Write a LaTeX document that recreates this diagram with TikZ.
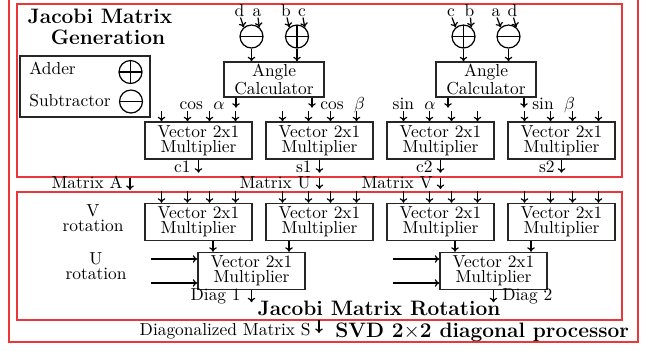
\documentclass[tikz,border=0pt]{standalone}
\usetikzlibrary{arrows.meta,calc}
\definecolor{boxred}{RGB}{235,55,55}
\newcommand{\pu}{0.5747pt}
\begin{document}
\begin{tikzpicture}[x=0.5747pt,y=-0.5747pt,
  >={To[length=2.6pt,width=4.4pt]},
  arr/.style={->,line width=0.7pt},
  blk/.style={draw=black!85,line width=0.8pt,align=center,inner sep=0pt,font=\fontsize{10}{8.7}\selectfont},
  vecbox/.style={blk,minimum width=61.5pt,minimum height=21.3pt},
  calcbox/.style={blk,minimum width=57.5pt,minimum height=20.1pt},
  op/.style={draw=black,line width=0.7pt,circle,minimum size=13.2pt,inner sep=0pt},
  adder/.style={op,path picture={\draw[line width=0.7pt] (path picture bounding box.north) -- (path picture bounding box.south) (path picture bounding box.west) -- (path picture bounding box.east);}},
  subtr/.style={op,path picture={\draw[line width=0.7pt] (path picture bounding box.west) -- (path picture bounding box.east);}},
  redbox/.style={draw=boxred,line width=0.6pt},
  lbl/.style={inner sep=0pt,font=\fontsize{10}{8.7}\selectfont},
  twol/.style={lbl,align=center},
  ttl/.style={inner sep=0pt,font=\fontsize{12}{12.5}\selectfont\bfseries},
]
\useasboundingbox (0,0) rectangle (648,350);
\clip (0,0) rectangle (648,350);

% red frames
\draw[redbox] (9,-5) rectangle (638,342);
\draw[redbox] (17,4) rectangle (622,177);
\draw[redbox] (17,192) rectangle (622,320);

% titles
\node[ttl,anchor=base] (t1) at (100,23) {Jacobi Matrix};
\node[ttl,anchor=base] (t2) at (108,44) {Generation};
\node[ttl,anchor=base] (t3) at (379,315) {Jacobi Matrix Rotation};
\node[ttl,anchor=base west] (t4) at (335,337) {SVD 2$\times$2 diagonal processor};

% legend
\node[draw=black!85,line width=0.8pt,minimum width=74.7pt,minimum height=35pt,inner sep=0pt] (legend) at (85,86.5) {};
\node[lbl,anchor=base west] (ladd) at (29,74) {Adder};
\node[lbl,anchor=base west] (lsub) at (29,106) {Subtractor};
\node[adder] (sa) at (130.5,72) {};
\node[subtr] (ss) at (131,101.5) {};

% angle calculators
\node[calcbox] (ac1) at (274,79.5) {Angle\\Calculator};
\node[calcbox] (ac2) at (486,79.5) {Angle\\Calculator};
\node[subtr] (sub1) at (251.5,36.5) {};
\node[adder] (add1) at (297,36.5) {};
\node[adder] (add2) at (463.5,36.5) {};
\node[subtr] (sub2) at (508.5,36.5) {};

\node[lbl,anchor=base] (ld1) at (239.5,16) {d};
\node[lbl,anchor=base] (la1) at (257,16) {a};
\node[lbl,anchor=base] (lb1) at (286,16) {b};
\node[lbl,anchor=base] (lc1) at (302,16) {c};
\node[lbl,anchor=base] (lc2) at (451,16) {c};
\node[lbl,anchor=base] (lb2) at (469.5,16) {b};
\node[lbl,anchor=base] (la2) at (496,16) {a};
\node[lbl,anchor=base] (ld2) at (512.5,16) {d};

\draw[arr] ($(ld1.south)+(1,1)$) -- (sub1.130);
\draw[arr] ($(la1.south)+(1,1)$) -- (sub1.50);
\draw[arr] ($(lb1.south)+(1,1)$) -- (add1.130);
\draw[arr] ($(lc1.south)+(1,1)$) -- (add1.50);
\draw[arr] ($(lc2.south)+(1,1)$) -- (add2.130);
\draw[arr] ($(lb2.south)+(1,1)$) -- (add2.50);
\draw[arr] ($(la2.south)+(1,1)$) -- (sub2.130);
\draw[arr] ($(ld2.south)+(1,1)$) -- (sub2.50);

\foreach \c/\a in {sub1/ac1,add1/ac1,add2/ac2,sub2/ac2}
  \draw[arr] (\c.south) -- (\c.south |- \a.north);

% angle calculator outputs
\foreach \a in {ac1,ac2}{
  \draw[arr] ($(\a.south)+(-38,0)$) -- ++(0,10);
  \draw[arr] ($(\a.south)+(38,0)$) -- ++(0,10);
}
\node[lbl,anchor=base east] (cosa) at (225,109) {cos\hspace{6pt}$\alpha$};
\node[lbl,anchor=base west] (cosb) at (320,109) {cos\hspace{6pt}$\beta$};
\node[lbl,anchor=base east] (sina) at (436,109) {sin\hspace{6pt}$\alpha$};
\node[lbl,anchor=base west] (sinb) at (532,109) {sin\hspace{6pt}$\beta$};

% vector multipliers, generation row
\node[vecbox] (v1) at (198.5,140.5) {Vector 2x1\\Multiplier};
\node[vecbox] (v2) at (319.5,140.5) {Vector 2x1\\Multiplier};
\node[vecbox] (v3) at (440.5,140.5) {Vector 2x1\\Multiplier};
\node[vecbox] (v4) at (561.5,140.5) {Vector 2x1\\Multiplier};
% rotation rows
\node[vecbox] (w1) at (198.5,222) {Vector 2x1\\Multiplier};
\node[vecbox] (w2) at (319.5,222) {Vector 2x1\\Multiplier};
\node[vecbox] (w3) at (440.5,222) {Vector 2x1\\Multiplier};
\node[vecbox] (w4) at (561.5,222) {Vector 2x1\\Multiplier};
\node[vecbox] (u1) at (251.5,271) {Vector 2x1\\Multiplier};
\node[vecbox] (u2) at (493.5,271) {Vector 2x1\\Multiplier};

\foreach \b in {v1,v2,v3,v4}
  \foreach \d in {-37,-11,11,37}
    \draw[arr] ($(\b.north)+(\d,-10)$) -- ++(0,10);
\foreach \b in {w1,w2,w3,w4}
  \foreach \d in {-37,-11,11,37}
    \draw[arr] ($(\b.north)+(\d,-12)$) -- ++(0,12);

% generation outputs
\foreach \b in {v1,v2,v3,v4}
  \draw[arr] (\b.south) -- ++(0,13);
\node[lbl,anchor=base east] (lc1o) at (191,172) {c1};
\node[lbl,anchor=base east] (ls1o) at (312,172) {s1};
\node[lbl,anchor=base east] (lc2o) at (433,172) {c2};
\node[lbl,anchor=base east] (ls2o) at (555,172) {s2};

% matrix inputs
\coordinate (mA) at (130,178);
\coordinate (mU) at (319.5,177.5);
\coordinate (mV) at (440.5,177.5);
\draw[arr] (mA) -- ++(0,12);
\draw[arr] (mU) -- ++(0,11.5);
\draw[arr] (mV) -- ++(0,11.5);
\node[lbl,anchor=base east] (lmA) at (123,188) {Matrix A};
\node[lbl,anchor=base east] (lmU) at (311,188) {Matrix U};
\node[lbl,anchor=base east] (lmV) at (433,188) {Matrix V};

% rotation labels
\node[twol] (lv) at (93,218) {V\\rotation};
\node[twol] (lu) at (96,266.5) {U\\rotation};

% U rotation inputs
\path ($(u1.north)+(-38.5,0)$) coordinate (u1a) ($(u1.north)+(37.5,0)$) coordinate (u1b);
\path ($(u2.north)+(-38.5,0)$) coordinate (u2a) ($(u2.north)+(37.5,0)$) coordinate (u2b);
\draw[arr] (u1a |- w1.south) -- (u1a);
\draw[arr] (u1b |- w2.south) -- (u1b);
\draw[arr] (u2a |- w3.south) -- (u2a);
\draw[arr] (u2b |- w4.south) -- (u2b);
\foreach \u in {u1,u2}{
  \draw[arr] ($(\u.west)+(-46,-12)$) -- ($(\u.west)+(0,-12)$);
  \draw[arr] ($(\u.west)+(-46,12)$) -- ($(\u.west)+(0,12)$);
  \draw[arr] (\u.south) -- ++(0,12);
}
\node[lbl,anchor=base east] (ld1o) at (241,300) {Diag 1};
\node[lbl,anchor=base west] (ld2o) at (502,300) {Diag 2};

% final output
\coordinate (dS) at (319,320);
\draw[arr] (dS) -- ++(0,13);
\node[lbl,anchor=base east] (lds) at (311,335) {Diagonalized Matrix S};
\end{tikzpicture}
\end{document}
